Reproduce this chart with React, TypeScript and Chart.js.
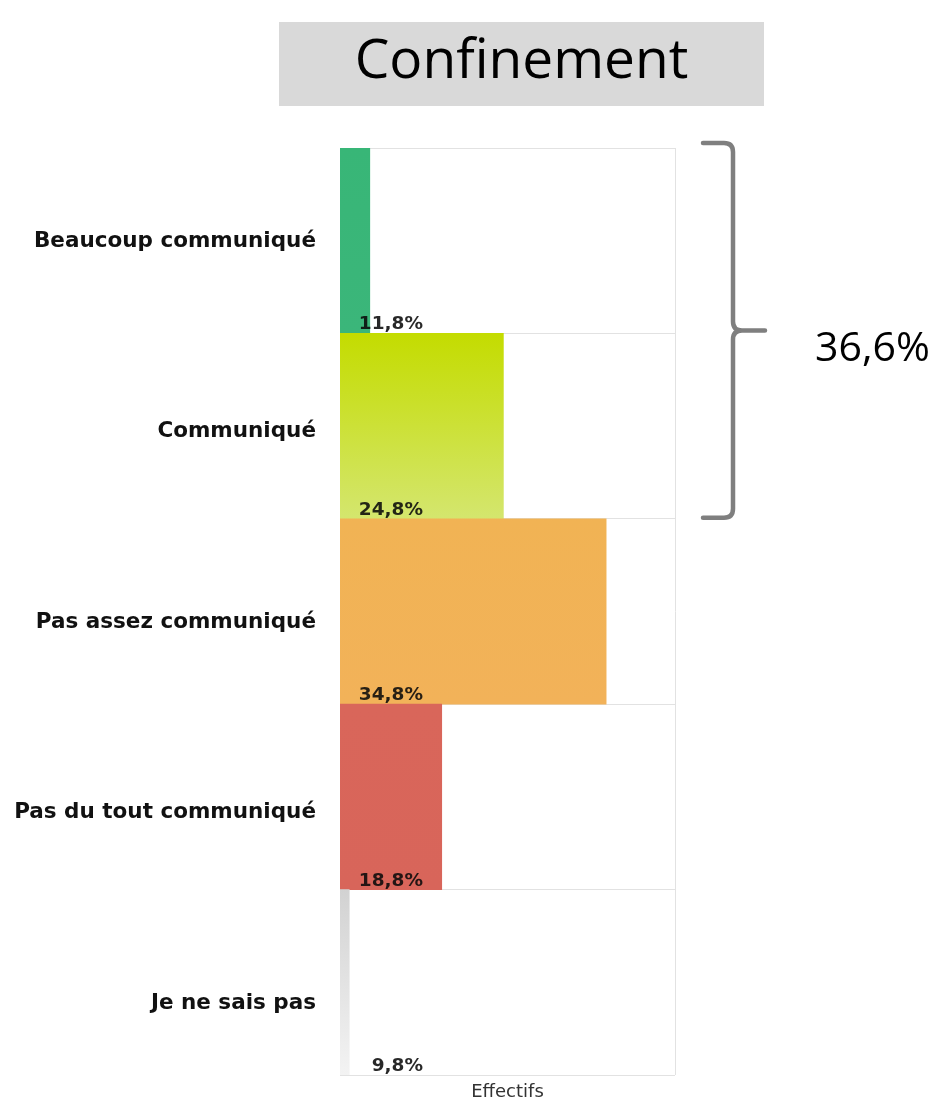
import React, { useEffect, useRef } from "react";
import { Chart, registerables } from "chart.js";

Chart.register(...registerables);

const TITLE = "Confinement";
const CATEGORIES = [
  "Beaucoup communiqué",
  "Communiqué",
  "Pas assez communiqué",
  "Pas du tout communiqué",
  "Je ne sais pas",
];
const VALUES = [11.8, 24.8, 34.8, 18.8, 9.8];
const COLORS_TOP = ["#38b677", "#c4dc00", "#f1b354", "#d9665a", "#d2d2d2"];
const COLORS_BOTTOM = ["#3bb67a", "#d4e66e", "#f2b259", "#d8655a", "#f3f3f3"];
const AXIS_TITLE = "Effectifs";
const BRACE_GROUP = [0, 1];
const X_MIN = 8.9;
const X_MAX = 41.5;
// the category labels in the source sit on a slightly wider pitch than the rows
const LABEL_AXIS_MIN = -0.488;
const LABEL_AXIS_MAX = 4.378;

const fmt = (v: number) => v.toFixed(1).replace(".", ",") + "%";

export default function App() {
  const ref = useRef<HTMLCanvasElement | null>(null);

  useEffect(() => {
    document.body.style.margin = "0";
    const canvas = ref.current;
    if (!canvas) return;

    const titlePlugin = {
      id: "titleBox",
      beforeDraw(chart: any) {
        const ctx = chart.ctx;
        ctx.save();
        ctx.fillStyle = "#d9d9d9";
        ctx.fillRect(279, 22, 485, 84);
        ctx.fillStyle = "#000";
        ctx.font = "55px 'Open Sans'";
        ctx.textAlign = "center";
        ctx.textBaseline = "alphabetic";
        ctx.fillText(TITLE, 521.5, 78);
        ctx.restore();
      },
    };

    const borderPlugin = {
      id: "borderLines",
      beforeDatasetsDraw(chart: any) {
        const { ctx, chartArea } = chart;
        ctx.save();
        ctx.strokeStyle = "#e2e2e2";
        ctx.lineWidth = 1;
        ctx.beginPath();
        ctx.moveTo(chartArea.right + 0.5, chartArea.top);
        ctx.lineTo(chartArea.right + 0.5, chartArea.bottom);
        ctx.moveTo(chartArea.left + 0.5, chartArea.top);
        ctx.lineTo(chartArea.left + 0.5, chartArea.bottom);
        ctx.stroke();
        ctx.fillStyle = "#333";
        ctx.font = "18px 'DejaVu Sans'";
        ctx.textAlign = "center";
        ctx.textBaseline = "alphabetic";
        ctx.fillText(AXIS_TITLE, (chartArea.left + chartArea.right) / 2, chartArea.bottom + 22);
        ctx.restore();
      },
    };

    const labelPlugin = {
      id: "valueLabels",
      afterDatasetsDraw(chart: any) {
        const { ctx, chartArea } = chart;
        const meta = chart.getDatasetMeta(0);
        ctx.save();
        ctx.font = "bold 18.5px 'DejaVu Sans'";
        ctx.fillStyle = "rgba(10,10,10,0.88)";
        ctx.textAlign = "right";
        ctx.textBaseline = "alphabetic";
        meta.data.forEach((bar: any, i: number) => {
          const bottom = bar.y + bar.height / 2;
          ctx.fillText(fmt(VALUES[i]), chartArea.left + 83, bottom - 4);
        });
        ctx.restore();
      },
    };

    const bracePlugin = {
      id: "brace",
      afterDraw(chart: any) {
        const { ctx, chartArea } = chart;
        const meta = chart.getDatasetMeta(0);
        const first = meta.data[BRACE_GROUP[0]];
        const last = meta.data[BRACE_GROUP[BRACE_GROUP.length - 1]];
        const top = first.y - first.height / 2 - 5;
        const bottom = last.y + last.height / 2 - 1;
        const mid = (top + bottom) / 2;
        const x0 = chartArea.right + 28;
        const xv = chartArea.right + 58;
        const xt = chartArea.right + 90;
        const r = 9;
        ctx.save();
        ctx.strokeStyle = "#7f7f7f";
        ctx.lineWidth = 4.5;
        ctx.lineCap = "round";
        ctx.lineJoin = "round";
        ctx.beginPath();
        ctx.moveTo(x0, top);
        ctx.lineTo(xv - r, top);
        ctx.quadraticCurveTo(xv, top, xv, top + r);
        ctx.lineTo(xv, mid - r);
        ctx.quadraticCurveTo(xv, mid, xv + r, mid);
        ctx.lineTo(xt, mid);
        ctx.moveTo(xv + r, mid);
        ctx.quadraticCurveTo(xv, mid, xv, mid + r);
        ctx.lineTo(xv, bottom - r);
        ctx.quadraticCurveTo(xv, bottom, xv - r, bottom);
        ctx.lineTo(x0, bottom);
        ctx.stroke();
        const sum = BRACE_GROUP.reduce((s, i) => s + VALUES[i], 0);
        ctx.fillStyle = "#000";
        ctx.font = "41px 'Open Sans'";
        ctx.textAlign = "left";
        ctx.textBaseline = "alphabetic";
        ctx.fillText(fmt(sum), 815, mid + 31);
        ctx.restore();
      },
    };

    const chart = new Chart(canvas, {
      type: "bar",
      data: {
        labels: CATEGORIES,
        datasets: [
          {
            data: VALUES,
            barPercentage: 1,
            categoryPercentage: 1,
            borderWidth: 0,
            backgroundColor: (c: any) => {
              const ch = c.chart;
              const i = c.dataIndex;
              const meta = ch.getDatasetMeta(0);
              const el = meta && meta.data && meta.data[i];
              if (!ch.chartArea || !el || !el.height) return COLORS_TOP[i];
              const t = el.y - el.height / 2;
              const b = el.y + el.height / 2;
              const g = ch.ctx.createLinearGradient(0, t, 0, b);
              g.addColorStop(0, COLORS_TOP[i]);
              g.addColorStop(1, COLORS_BOTTOM[i]);
              return g;
            },
          },
        ],
      },
      options: {
        indexAxis: "y",
        responsive: false,
        animation: false,
        layout: { padding: { left: 0, right: 260, top: 148, bottom: 26 } },
        plugins: {
          legend: { display: false },
          tooltip: { enabled: false },
          title: { display: false },
        },
        scales: {
          y: {
            type: "category",
            grid: { offset: true, color: "#e2e2e2", drawTicks: false },
            border: { display: false },
            ticks: { display: false },
            afterFit: (s: any) => {
              s.width = 0;
              s.paddingTop = 0;
              s.paddingBottom = 0;
            },
          },
          yLabels: {
            type: "linear",
            position: "left",
            reverse: true,
            offset: false,
            bounds: "data",
            min: LABEL_AXIS_MIN,
            max: LABEL_AXIS_MAX,
            grid: { display: false, drawTicks: false, offset: false },
            border: { display: false },
            afterBuildTicks: (s: any) => {
              s.ticks = CATEGORIES.map((_, i) => ({ value: i }));
              s.min = LABEL_AXIS_MIN;
              s.max = LABEL_AXIS_MAX;
            },
            ticks: {
              color: "#111",
              padding: 24,
              font: { family: "'DejaVu Sans'", size: 21.5, weight: "bold" },
              callback: (v: any) => CATEGORIES[Math.round(Number(v))] ?? "",
            },
            afterFit: (s: any) => {
              s.width = 340;
              s.paddingTop = 0;
              s.paddingBottom = 0;
            },
          },
          x: {
            type: "linear",
            display: false,
            min: X_MIN,
            max: X_MAX,
          },
        },
      },
      plugins: [titlePlugin, borderPlugin, labelPlugin, bracePlugin],
    });
    // re-render so gradients use final bar geometry
    chart.update();

    return () => chart.destroy();
  }, []);

  return <canvas ref={ref} width={935} height={1101} style={{ display: "block" }} />;
}
